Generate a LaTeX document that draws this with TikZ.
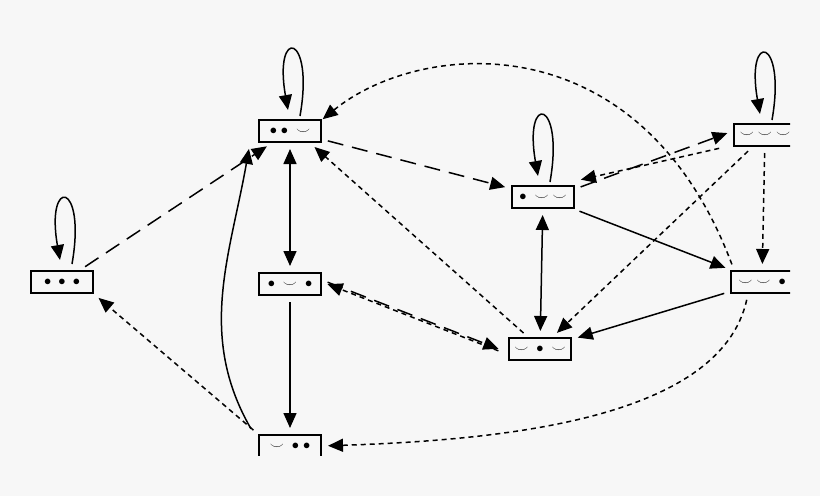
\documentclass[tikz,border=0pt]{standalone}
\usepackage{amsmath}
\usepackage{tikz}
\usetikzlibrary{arrows.meta}

\tikzset{
  state/.style={draw, line width=2pt, minimum width=62pt, minimum height=22pt, inner sep=0pt, font=\Large},
  tip/.style={-{Triangle[length=15pt,width=13pt]}, line width=1.5pt, shorten >=6pt, shorten <=6pt},
  longdash/.style={tip, dash pattern=on 16pt off 9pt},
  shortdash/.style={tip, dash pattern=on 5pt off 4pt},
  plain/.style={tip},
  both/.style={tip, {Triangle[length=15pt,width=13pt]}-{Triangle[length=15pt,width=13pt]}},
  selfloop/.style={-{Triangle[length=15pt,width=13pt]}, line width=1.5pt, out=80, in=100, looseness=1.2, distance=85pt}
}

\begin{document}
\begin{tikzpicture}[x=1pt,y=-1pt]
  \fill[black!3] (0,0) rectangle (820,496);
  \useasboundingbox (0,0) rectangle (820,496);
  \begin{scope}
  \clip (0,0) rectangle (790,455);
  % states
  \node[state] (A) at (62,282)  {$\bullet\;\bullet\;\bullet$};
  \node[state] (B) at (290,131) {$\bullet\;\bullet\;\smile$};
  \node[state] (C) at (290,284) {$\bullet\;\smile\;\bullet$};
  \node[state] (D) at (290,446) {$\smile\;\bullet\;\bullet$};
  \node[state] (E) at (543,197) {$\bullet\;\smile\;\smile$};
  \node[state] (F) at (540,349) {$\smile\;\bullet\;\smile$};
  \node[state] (G) at (765,135) {$\smile\;\smile\;\smile$};
  \node[state] (H) at (762,282) {$\smile\;\smile\;\bullet$};
  % self loops
  \draw[selfloop] (72,264) to (60,260);
  \draw[selfloop] (300,116) to (288,110);
  \draw[selfloop] (550,182) to (538,176);
  \draw[selfloop] (772,120) to (760,114);
  % long dashed
  \draw[longdash] (A) -- (B);
  \draw[longdash] (B) -- (E);
  \draw[longdash] ([yshift=-4pt]E.north east) -- ([yshift=4pt]G.west);
  \draw[longdash] ([yshift=4pt]C.east) -- ([xshift=-4pt,yshift=-2pt]F.west);
  % solid
  \draw[both] (B) -- (C);
  \draw[plain] (C) -- (D);
  \draw[plain] ([xshift=-4pt]D.north west) to[out=120,in=-100] ([xshift=-40pt]B.south);
  \draw[both] (E) -- (F);
  \draw[plain] (E) -- (H);
  \draw[plain] (H) -- (F);
  % short dashed
  \draw[shortdash] ([xshift=-8pt]G.south west) -- ([yshift=4pt]E.north east);
  \draw[shortdash] (G) -- (F);
  \draw[shortdash] (G) -- (H);
  \draw[shortdash] ([xshift=-4pt,yshift=-4pt]F.west) -- ([yshift=14pt]C.south east);
  \draw[shortdash] ([xshift=-12pt]F.north) -- ([xshift=20pt]B.south);
  \draw[shortdash] ([xshift=-28pt]H.north) .. controls (640,20) and (420,40) .. ([xshift=28pt,yshift=-4pt]B.north);
  \draw[shortdash] ([xshift=-14pt]H.south) .. controls (720,420) and (500,440) .. (D.east);
  \draw[shortdash] (D.north west) -- (A.south east);
  \end{scope}
\end{tikzpicture}
\end{document}
